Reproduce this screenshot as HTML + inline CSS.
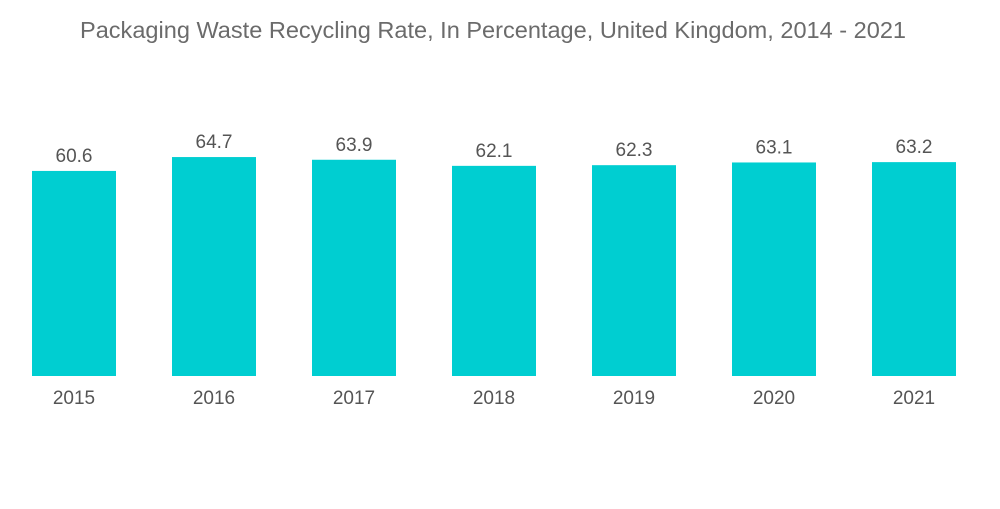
<!DOCTYPE html>
<html>
<head>
<meta charset="utf-8">
<style>
  html, body { margin: 0; padding: 0; background: #ffffff; }
  body { width: 1000px; height: 504px; overflow: hidden; font-family: "Liberation Sans", sans-serif; }
  svg text { font-family: "Liberation Sans", sans-serif; }
</style>
</head>
<body>
<svg id="chart" width="1000" height="504" viewBox="0 0 1000 504" xmlns="http://www.w3.org/2000/svg">
  <text x="80" y="38" font-size="23" textLength="826" lengthAdjust="spacingAndGlyphs" fill="#6b6b6b">Packaging Waste Recycling Rate, In Percentage, United Kingdom, 2014 - 2021</text>
  <g id="bars"></g>
</svg>
<script>
const categories = ["2015", "2016", "2017", "2018", "2019", "2020", "2021"];
const values = [60.6, 64.7, 63.9, 62.1, 62.3, 63.1, 63.2];
const valueLabels = ["60.6", "64.7", "63.9", "62.1", "62.3", "63.1", "63.2"];

const baseline = 376;
const pxPerUnit = 3.384;
const firstX = 32, step = 140, barW = 84;
function xPos(i) { return firstX + i * step; }
function yPos(v) { return baseline - v * pxPerUnit; }

const ns = "http://www.w3.org/2000/svg";
const g = document.getElementById("bars");
categories.forEach((c, i) => {
  const v = values[i];
  const x = xPos(i), y = yPos(v);
  const r = document.createElementNS(ns, "rect");
  
  
  r.setAttribute("x", x); r.setAttribute("y", y);
  r.setAttribute("width", barW); r.setAttribute("height", baseline - y);
  r.setAttribute("fill", "#00ced1");
  g.appendChild(r);

  const t = document.createElementNS(ns, "text");
  
  
  t.setAttribute("x", x + barW / 2); t.setAttribute("y", y - 9);
  t.setAttribute("text-anchor", "middle"); t.setAttribute("font-size", "19");
  t.setAttribute("fill", "#555555");
  t.textContent = valueLabels[i];
  g.appendChild(t);

  const l = document.createElementNS(ns, "text");
  
  
  l.setAttribute("x", x + barW / 2); l.setAttribute("y", 404);
  l.setAttribute("text-anchor", "middle"); l.setAttribute("font-size", "19");
  l.setAttribute("fill", "#555555");
  l.textContent = c;
  g.appendChild(l);
});
</script>
</body>
</html>
